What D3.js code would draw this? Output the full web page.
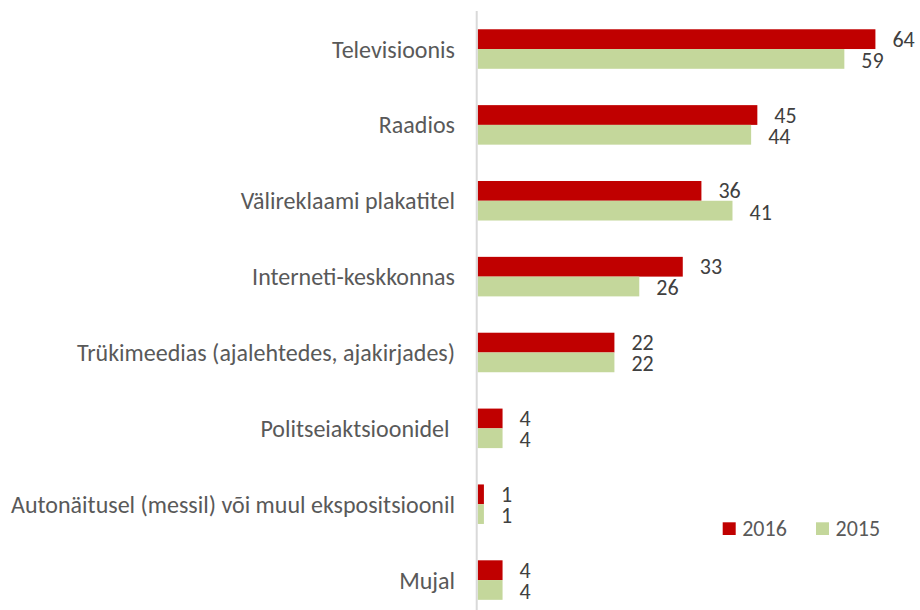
<!DOCTYPE html>
<html>
<head>
<meta charset="utf-8">
<script src="https://cdn.jsdelivr.net/npm/d3@7"></script>
<style>
  html, body { margin: 0; padding: 0; background: #fff; }
  svg { display: block; font-family: Carlito, Calibri, Lato, "Open Sans", sans-serif; }
</style>
</head>
<body>
<svg id="chart" width="920" height="610"></svg>
<script>
const categories = [
  "Televisioonis",
  "Raadios",
  "Välireklaami plakatitel",
  "Interneti-keskkonnas",
  "Trükimeedias (ajalehtedes, ajakirjades)",
  "Politseiaktsioonidel ",
  "Autonäitusel (messil) või muul ekspositsioonil",
  "Mujal"
];
const seriesNames = ["2016", "2015"];
const values2016 = [64, 45, 36, 33, 22, 4, 1, 4];
const values2015 = [59, 44, 41, 26, 22, 4, 1, 4];
const colors = ["#C00000", "#C4D79B"];

const svg = d3.select("#chart");
const W = 920, H = 610;

const x = d3.scaleLinear().domain([0, 70]).range([477.7, 912.7]);
const y = d3.scaleBand().domain(categories).range([11.1, 618.0]).paddingInner(0.479).paddingOuter(0.2395);
const ySub = d3.scaleBand().domain(seriesNames).range([0, y.bandwidth()]);

const data = categories.map((c, i) => ({ cat: c, vals: [
  { s: "2016", v: values2016[i] },
  { s: "2015", v: values2015[i] }
]}));

// category labels
svg.append("g").selectAll("text").data(categories).join("text")
  .attr("x", 455)
  .attr("y", d => y(d) + y.bandwidth() / 2)
  .attr("text-anchor", "end")
  .attr("dominant-baseline", "central")
  .attr("fill", "#595959")
  .attr("font-size", 24)
  .style("white-space", "pre")
  .text(d => d);

// bars
const groups = svg.append("g").selectAll("g").data(data).join("g")
  .attr("transform", d => `translate(0,${y(d.cat)})`);

groups.selectAll("rect").data(d => d.vals).join("rect")
  .attr("x", x(0))
  .attr("y", d => ySub(d.s))
  .attr("width", d => x(d.v) - x(0))
  .attr("height", ySub.bandwidth())
  .attr("fill", (d, i) => colors[i]);

groups.selectAll("text").data(d => d.vals).join("text")
  .attr("x", d => x(d.v) + 17)
  .attr("y", (d, i) => ySub(d.s) + ySub.bandwidth() / 2 + (i === 1 ? 1.5 : 0))
  .attr("dominant-baseline", "central")
  .attr("fill", "#404040")
  .attr("font-size", 22)
  .text(d => d.v);

// axis line
svg.append("line")
  .attr("x1", x(0) - 1).attr("x2", x(0) - 1)
  .attr("y1", y.range()[0]).attr("y2", H)
  .attr("stroke", "#d9d9d9").attr("stroke-width", 2);

// legend
const legendPos = [722.7, 816];
const legend = svg.append("g").selectAll("g").data(seriesNames).join("g")
  .attr("transform", (d, i) => `translate(${legendPos[i]},522.3)`);
legend.append("rect").attr("width", 13).attr("height", 12.7).attr("fill", (d, i) => colors[i]);
legend.append("text")
  .attr("x", 19.5).attr("y", 6.5)
  .attr("dominant-baseline", "central")
  .attr("fill", "#595959")
  .attr("font-size", 22)
  .text(d => d);
</script>
</body>
</html>
